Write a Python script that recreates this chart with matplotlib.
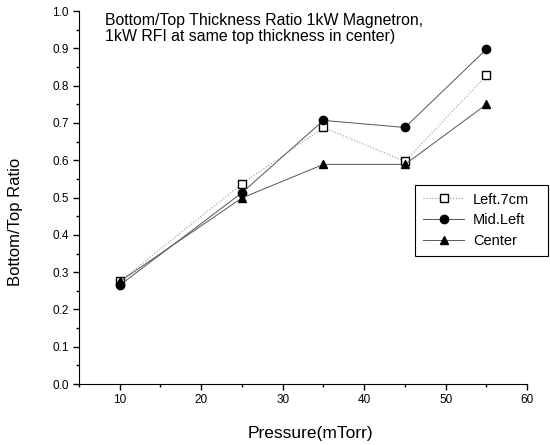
import matplotlib
matplotlib.use("Agg")
import matplotlib.pyplot as plt
from matplotlib.ticker import MultipleLocator

plt.rcParams['font.family'] = ['Liberation Sans', 'DejaVu Sans']

pressure = [10, 25, 35, 45, 55]
left_7cm = [0.275, 0.537, 0.688, 0.597, 0.828]
mid_left = [0.265, 0.513, 0.707, 0.688, 0.898]
center = [0.275, 0.499, 0.589, 0.589, 0.750]

fig = plt.figure(figsize=(5.5, 4.45), dpi=100)
ax = fig.add_axes([0.1436, 0.137, 0.815, 0.838])

ax.plot(pressure, left_7cm, color='#999999', lw=0.8, ls=':', marker='s',
        mfc='white', mec='black', ms=6, mew=1.0, label='Left.7cm')
ax.plot(pressure, mid_left, color='#555555', lw=0.7, ls='-', marker='o',
        mfc='black', mec='black', ms=6, label='Mid.Left')
ax.plot(pressure, center, color='#555555', lw=0.7, ls='-', marker='^',
        mfc='black', mec='black', ms=6, label='Center')

ax.set_xlim(5, 60)
ax.set_ylim(0, 1.0)
ax.xaxis.set_major_locator(MultipleLocator(10))
ax.xaxis.set_minor_locator(MultipleLocator(5))
ax.yaxis.set_major_locator(MultipleLocator(0.1))
ax.yaxis.set_minor_locator(MultipleLocator(0.05))
ax.yaxis.set_major_formatter(plt.FuncFormatter(lambda v, p: f"{v:.1f}"))
ax.spines['top'].set_visible(False)
ax.spines['right'].set_visible(False)
ax.tick_params(which='major', direction='out', length=4, width=1, labelsize=8.5)
ax.tick_params(which='minor', direction='out', length=2.5, width=1)

ax.set_xlabel('Pressure(mTorr)', fontsize=12.5)
ax.xaxis.set_label_coords(0.516, -0.113)
ax.set_ylabel('Bottom/Top Ratio', fontsize=12)
ax.yaxis.set_label_coords(-0.125, 0.434)

ax.text(0.058, 0.995, 'Bottom/Top Thickness Ratio 1kW Magnetron,\n1kW RFI at same top thickness in center)',
        transform=ax.transAxes, fontsize=11.4, va='top', ha='left', linespacing=1.1)

leg = ax.legend(loc='upper left', bbox_to_anchor=(0.750, 0.335, 0.297, 0.2),
                mode='expand', fontsize=10.5,
                frameon=True, fancybox=False, edgecolor='black', framealpha=1,
                handlelength=2.8, borderpad=0.55, labelspacing=0.45, borderaxespad=0,
                handletextpad=0.6)
leg.get_frame().set_linewidth(0.8)

fig.savefig('out.png', dpi=100)
